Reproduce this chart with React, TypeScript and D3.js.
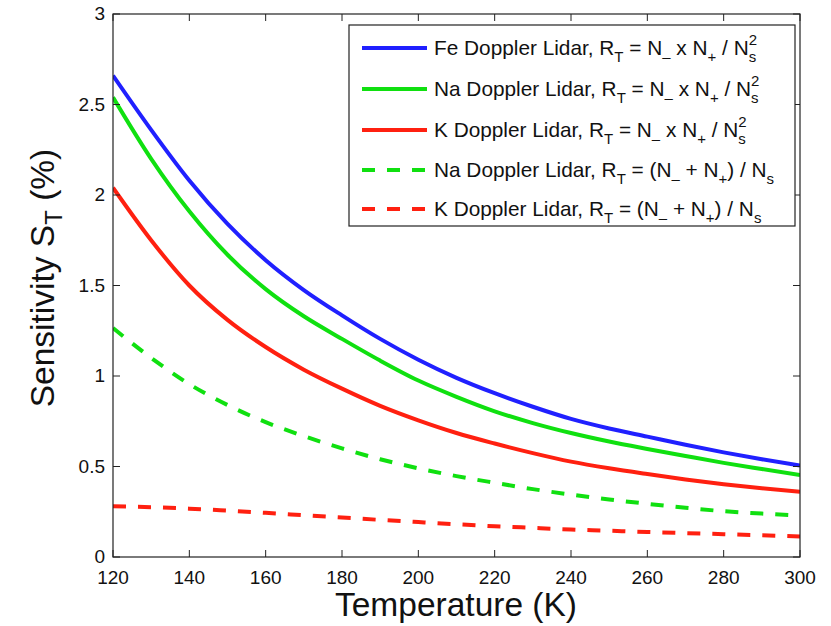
import React from "react";
import * as d3 from "d3";

const temps = [120, 130, 140, 150, 160, 170, 180, 190, 200, 210, 220, 230, 240, 250, 260, 270, 280, 290, 300];
const feProduct = [2.66, 2.36, 2.08, 1.84, 1.64, 1.475, 1.335, 1.205, 1.09, 0.99, 0.905, 0.83, 0.763, 0.71, 0.665, 0.62, 0.578, 0.54, 0.505];
const naProduct = [2.54, 2.2, 1.91, 1.67, 1.48, 1.33, 1.205, 1.085, 0.975, 0.885, 0.805, 0.74, 0.685, 0.638, 0.597, 0.558, 0.52, 0.486, 0.453];
const kProduct = [2.04, 1.75, 1.5, 1.31, 1.16, 1.035, 0.93, 0.835, 0.755, 0.685, 0.627, 0.574, 0.527, 0.49, 0.458, 0.428, 0.402, 0.38, 0.36];
const naSum = [1.265, 1.1, 0.955, 0.84, 0.745, 0.668, 0.6, 0.54, 0.49, 0.447, 0.41, 0.375, 0.345, 0.318, 0.294, 0.272, 0.253, 0.24, 0.228];
const kSum = [0.28, 0.275, 0.267, 0.256, 0.244, 0.231, 0.218, 0.205, 0.193, 0.181, 0.17, 0.161, 0.152, 0.145, 0.138, 0.132, 0.126, 0.12, 0.113];

const xTicks = [120, 140, 160, 180, 200, 220, 240, 260, 280, 300];
const yTicks = [0, 0.5, 1, 1.5, 2, 2.5, 3];
const yTickLabels = ["0", "0.5", "1", "1.5", "2", "2.5", "3"];

const seriesNames = ["Fe Doppler Lidar", "Na Doppler Lidar", "K Doppler Lidar", "Na Doppler Lidar", "K Doppler Lidar"];
const seriesFormula = ["product", "product", "product", "sum", "sum"];
const seriesValues = [feProduct, naProduct, kProduct, naSum, kSum];
const seriesColors = ["#2020ff", "#10e010", "#ff2010", "#10e010", "#ff2010"];
const seriesDashed = [false, false, false, true, true];

const FONT = "'Liberation Sans', Arial, Helvetica, sans-serif";

function Formula({ x, y, name, kind }: { x: number; y: number; name: string; kind: string }) {
  const fs = 20.8;
  const ss = 15;
  const sd = 6.5;
  if (kind === "product") {
    return (
      <text x={x} y={y} fontSize={fs} fontFamily={FONT} fill="#111" style={{ whiteSpace: "pre" }}>
        {name + ", R"}
        <tspan dy={sd} fontSize={ss}>T</tspan>
        <tspan dy={-sd}>{" = N"}</tspan>
        <tspan dy={sd} fontSize={ss}>–</tspan>
        <tspan dy={-sd}>{" x N"}</tspan>
        <tspan dy={sd} fontSize={ss}>+</tspan>
        <tspan dy={-sd}>{" / N"}</tspan>
        <tspan dy={sd} fontSize={ss}>s</tspan>
        <tspan dy={-17} dx={-7.5} fontSize={ss}>2</tspan>
      </text>
    );
  }
  return (
    <text x={x} y={y} fontSize={fs} fontFamily={FONT} fill="#111" style={{ whiteSpace: "pre" }}>
      {name + ", R"}
      <tspan dy={sd} fontSize={ss}>T</tspan>
      <tspan dy={-sd}>{" = (N"}</tspan>
      <tspan dy={sd} fontSize={ss}>–</tspan>
      <tspan dy={-sd}>{" + N"}</tspan>
      <tspan dy={sd} fontSize={ss}>+</tspan>
      <tspan dy={-sd}>{") / N"}</tspan>
      <tspan dy={sd} fontSize={ss}>s</tspan>
    </text>
  );
}

export default function App() {
  const W = 831;
  const H = 626;
  const x = d3.scaleLinear().domain([120, 300]).range([113, 800]);
  const y = d3.scaleLinear().domain([0, 3]).range([557, 14]);
  const line = d3
    .line<number>()
    .x((_, i) => x(temps[i]))
    .y((d) => y(d))
    .curve(d3.curveMonotoneX);

  const left = x.range()[0];
  const right = x.range()[1];
  const bottom = y.range()[0];
  const top = y.range()[1];
  const tick = 7;

  const legX = 349;
  const legY = 25;
  const legW = 446;
  const legH = 201;
  const rowY = [48, 89, 130, 170, 209];

  return (
    <svg width={W} height={H} style={{ position: "absolute", left: 0, top: 0, background: "#fff" }}>
      <rect x={0} y={0} width={W} height={H} fill="#fff" />
      <defs>
        <clipPath id="plotclip">
          <rect x={left} y={top} width={right - left} height={bottom - top} />
        </clipPath>
      </defs>

      <g clipPath="url(#plotclip)">
        {seriesValues.map((vals, i) => (
          <path
            key={i}
            d={line(vals) || ""}
            fill="none"
            stroke={seriesColors[i]}
            strokeWidth={4}
            strokeDasharray={seriesDashed[i] ? "13,12" : undefined}
          />
        ))}
      </g>

      <rect x={left} y={top} width={right - left} height={bottom - top} fill="none" stroke="#222" strokeWidth={1.2} />

      {xTicks.map((t) => (
        <g key={"xt" + t}>
          <line x1={x(t)} x2={x(t)} y1={bottom} y2={bottom - tick} stroke="#222" strokeWidth={1} />
          <line x1={x(t)} x2={x(t)} y1={top} y2={top + tick} stroke="#222" strokeWidth={1} />
          <text x={x(t)} y={bottom + 27} textAnchor="middle" fontSize={19} fontFamily={FONT} fill="#111">
            {t}
          </text>
        </g>
      ))}

      {yTicks.map((t, i) => (
        <g key={"yt" + t}>
          <line x1={left} x2={left + tick} y1={y(t)} y2={y(t)} stroke="#222" strokeWidth={1} />
          <line x1={right} x2={right - tick} y1={y(t)} y2={y(t)} stroke="#222" strokeWidth={1} />
          <text x={left - 8} y={y(t) + 6} textAnchor="end" fontSize={19} fontFamily={FONT} fill="#111">
            {yTickLabels[i]}
          </text>
        </g>
      ))}

      <text x={456} y={616} textAnchor="middle" fontSize={33.5} fontFamily={FONT} fill="#111">
        Temperature (K)
      </text>
      <text
        transform={`translate(54,278) rotate(-90)`}
        textAnchor="middle"
        fontSize={33.5}
        fontFamily={FONT}
        fill="#111"
        style={{ whiteSpace: "pre" }}
      >
        {"Sensitivity S"}
        <tspan dy={8} fontSize={24}>T</tspan>
        <tspan dy={-8}>{" (%)"}</tspan>
      </text>

      <rect x={legX} y={legY} width={legW} height={legH} fill="#fff" stroke="#222" strokeWidth={1.2} />
      {seriesNames.map((n, i) => (
        <g key={"lg" + i}>
          <line
            x1={362}
            x2={427}
            y1={rowY[i]}
            y2={rowY[i]}
            stroke={seriesColors[i]}
            strokeWidth={4}
            strokeDasharray={seriesDashed[i] ? "13,12" : undefined}
          />
          <Formula x={434} y={rowY[i] + 7} name={n} kind={seriesFormula[i]} />
        </g>
      ))}
    </svg>
  );
}
